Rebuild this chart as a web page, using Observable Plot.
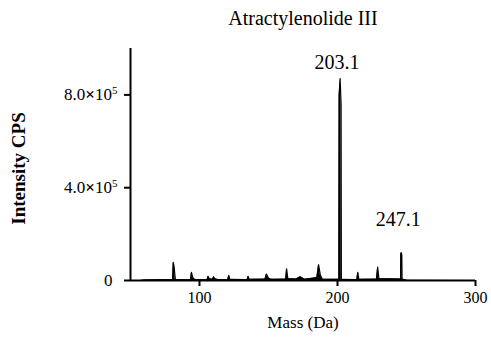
<!DOCTYPE html>
<html>
<head>
<meta charset="utf-8">
<script src="https://cdn.jsdelivr.net/npm/d3@7"></script>
<script src="https://cdn.jsdelivr.net/npm/@observablehq/plot@0.6"></script>
<style>
  html, body { margin: 0; padding: 0; background: #fff; }
  #chart svg { display: block; }
</style>
</head>
<body>
<div id="chart"></div>
<script>
const title = "Atractylenolide III";
const xLabel = "Mass (Da)";
const yLabel = "Intensity CPS";

// Spectrum points (m/z, counts per second)
const masses = [
  57, 60, 70, 78, 80.5, 81, 81.6, 82.5, 90, 93.5, 94.2, 95, 96, 98,
  105.5, 106.2, 107, 109.5, 110.2, 111, 113, 120.5, 121.2, 122,
  134.5, 135.2, 136, 147.5, 148.5, 150, 152, 162.5, 163.1, 164,
  170, 173, 176, 185, 186.3, 187.5, 189, 201.0, 201.2, 201.9, 202.6, 202.8,
  214, 214.7, 215.5, 228.3, 229.1, 230, 245.7, 245.9, 246.2, 246.6, 246.8, 250, 300
];
const intensities = [
  0, 2000, 3000, 3000, 3000, 78000, 60000, 4000, 3000, 4000, 35000, 15000, 6000, 3000,
  4000, 18000, 8000, 5000, 16000, 8000, 4000, 4000, 22000, 5000,
  4000, 18000, 5000, 6000, 28000, 10000, 5000, 6000, 50000, 8000,
  6000, 16000, 5000, 12000, 68000, 25000, 5000, 5000, 800000, 870000, 760000, 5000,
  4000, 35000, 5000, 6000, 58000, 8000, 6000, 115000, 120000, 110000, 6000, 1000, 0
];

const xTicks = [100, 200, 300];
const yTicks = [0, 400000, 800000];
const yTickText = ["0", "4.0×10^5", "8.0×10^5"];

// Annotated peaks: position of the drawn apex, and their printed m/z
const peakMasses = [201.9, 246.2];
const peakIntensities = [870000, 120000];
const peakLabels = ["203.1", "247.1"];

const spectrum = masses.map((m, i) => ({mass: m, intensity: intensities[i]}));
const peaks = peakMasses.map((m, i) => ({mass: m, intensity: peakIntensities[i], label: peakLabels[i]}));

const font = "Liberation Serif";

const plot = Plot.plot({
  width: 491,
  height: 343,
  marginLeft: 130,
  marginRight: 16,
  marginTop: 48,
  marginBottom: 63,
  style: {fontFamily: font, fontSize: "16px", color: "#000", background: "#fff"},
  x: {domain: [50, 300], ticks: xTicks, label: null},
  y: {domain: [0, 1000000], ticks: yTicks, label: null},
  marks: [
    Plot.areaY(spectrum, {x: "mass", y: "intensity", fill: "#000", curve: "linear"}),
    Plot.lineY(spectrum, {x: "mass", y: "intensity", stroke: "#000", strokeWidth: 1.2}),
    Plot.axisX(xTicks, {tickSize: 6, tickPadding: 5, strokeWidth: 2, fontSize: 16, fontFamily: font, tickFormat: d => String(d), label: null}),
    Plot.axisY(yTicks, {tickSize: 6, tickPadding: 7, strokeWidth: 2, fontSize: 17, fontFamily: font, tickFormat: d => yTickText[yTicks.indexOf(d)], label: null}),
    Plot.ruleY([0], {stroke: "#000", strokeWidth: 2}),
    Plot.ruleX([50], {stroke: "#000", strokeWidth: 2}),
    Plot.text([peaks[0]], {x: "mass", y: "intensity", text: "label", dy: -16, dx: -3, lineAnchor: "middle", fontSize: 20, fontFamily: font}),
    Plot.text([peaks[1]], {x: "mass", y: "intensity", text: "label", dy: -33, dx: -3, lineAnchor: "middle", fontSize: 20, fontFamily: font}),
    Plot.text([title], {frameAnchor: "top", dy: -30, lineAnchor: "middle", fontSize: 20, fontFamily: font}),
    Plot.text([xLabel], {frameAnchor: "bottom", dy: 42, lineAnchor: "middle", fontSize: 17, fontFamily: font}),
    Plot.text([yLabel], {frameAnchor: "left", dx: -112, dy: 4, rotate: -90, lineAnchor: "middle", textAnchor: "middle", fontSize: 19, fontWeight: "bold", fontFamily: font})
  ]
});

document.getElementById("chart").appendChild(plot);

// Render "4.0×10^5" with bold multiplication sign and superscript exponent
d3.select(plot).selectAll("[aria-label='y-axis tick label'] text").each(function() {
  const t = this.textContent;
  const m = t.match(/^(.*)×10\^(\d+)$/);
  const sel = d3.select(this);
  if (!m) { sel.attr("dx", -5); return; }
  sel.text(null);
  sel.append("tspan").text(m[1]);
  sel.append("tspan").attr("font-weight", "bold").attr("font-size", 17).text("×");
  sel.append("tspan").text("10");
  sel.append("tspan").attr("font-size", 11).attr("dy", "-0.55em").text(m[2]);
});
d3.select(plot).selectAll("text").attr("font-family", font);
</script>
</body>
</html>
